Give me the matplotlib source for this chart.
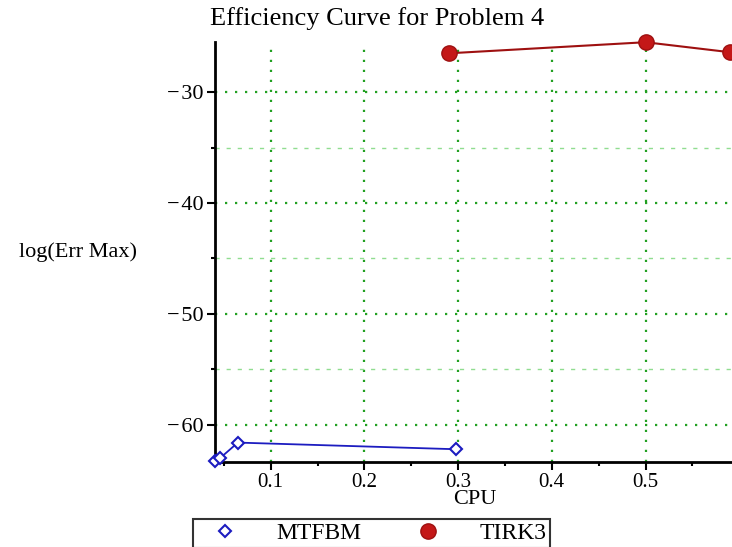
import matplotlib.pyplot as plt
from matplotlib.ticker import MultipleLocator

# data
mtfbm_cpu = [0.041, 0.046, 0.065, 0.298]
mtfbm_err = [-63.3, -63.0, -61.6, -62.2]
tirk3_cpu = [0.290, 0.500, 0.590]
tirk3_err = [-26.5, -25.5, -26.4]

plt.rcParams['font.family'] = ['Liberation Serif', 'DejaVu Serif']

fig = plt.figure(figsize=(7.32, 5.47), dpi=100)
ax = fig.add_axes([215 / 732, 85 / 547, 517 / 732, 420 / 547])

ax.plot(mtfbm_cpu, mtfbm_err, color='#1c1cc0', lw=1.3, marker='D', ms=6,
        mfc='white', mec='#1c1cc0', mew=1.5, label='MTFBM', clip_on=False, zorder=5)
ax.plot(tirk3_cpu, tirk3_err, color='#9e1010', lw=1.5, marker='o', ms=11,
        mfc='#c41818', mec='#9e1010', label='TIRK3', clip_on=False, zorder=5)

ax.set_xlim(0.0406, 0.5923)
ax.set_ylim(-63.35, -25.48)

ax.xaxis.set_minor_locator(MultipleLocator(0.05))
ax.yaxis.set_minor_locator(MultipleLocator(5))
ax.set_xticks([0.1, 0.2, 0.3, 0.4, 0.5])
ax.set_xticklabels(['0.1', '0.2', '0.3', '0.4', '0.5'])
ax.set_yticks([-60, -50, -40, -30])
ax.set_yticklabels(['\u2212\u200a60', '\u2212\u200a50', '\u2212\u200a40', '\u2212\u200a30'])

ax.grid(which='major', axis='both', color='#22a022', linestyle=(0, (1, 3.5)), lw=1.6)
ax.grid(which='minor', axis='y', color='#90dd90', linestyle=(0, (3, 5)), lw=1.0)

for s in ['top', 'right']:
    ax.spines[s].set_visible(False)
for s in ['left', 'bottom']:
    ax.spines[s].set_linewidth(2.0)

ax.tick_params(which='major', direction='out', length=6, width=1.5, labelsize=16, pad=2)
ax.tick_params(axis='x', which='major', labelsize=15)
ax.tick_params(which='minor', direction='out', length=3, width=1.5)

fig.text(377 / 732, 1 - 19 / 547, 'Efficiency Curve for Problem 4', ha='center', va='center', fontsize=19)
fig.text(78 / 732, 1 - 252 / 547, 'log(Err Max)', ha='center', va='center', fontsize=16)
fig.text(475 / 732, 1 - 499 / 547, 'CPU', ha='center', va='center', fontsize=16)

leg = fig.legend(loc='upper left', bbox_to_anchor=(193 / 732, 1 - 519 / 547), ncol=2,
                 fontsize=17, frameon=True, fancybox=False, edgecolor='black',
                 handlelength=2.4, handletextpad=1.0, columnspacing=1.6,
                 borderpad=0.15, borderaxespad=0)
leg.get_frame().set_linewidth(1.5)
for h in leg.legend_handles:
    h.set_linestyle('none')

fig.savefig('out.png', dpi=100)
